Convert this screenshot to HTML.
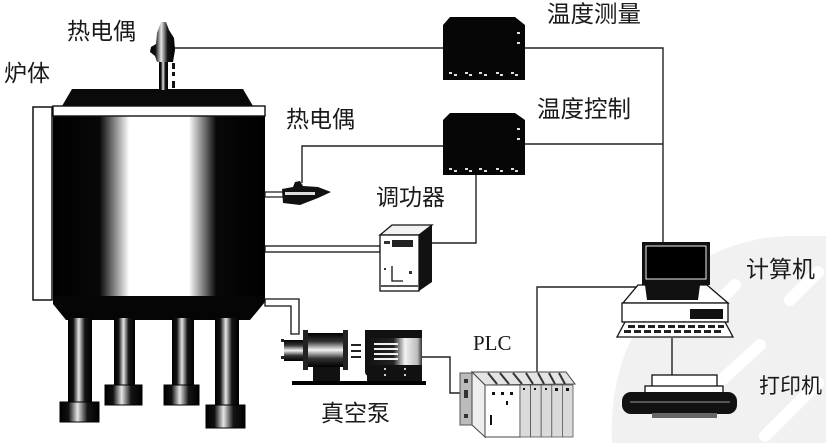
<!DOCTYPE html>
<html><head><meta charset="utf-8">
<style>
html,body{margin:0;padding:0;background:#fff;width:826px;height:443px;overflow:hidden;}
svg{display:block;overflow:hidden;}
text{font-family:"Liberation Sans","Noto Sans CJK SC",sans-serif;fill:#1a1a1a;}
</style></head><body>
<svg width="826" height="443" viewBox="0 0 826 443" xmlns="http://www.w3.org/2000/svg">
<defs>
<linearGradient id="body" x1="53" y1="0" x2="265" y2="0" gradientUnits="userSpaceOnUse">
<stop offset="0" stop-color="#000"/>
<stop offset="0.22" stop-color="#080808"/>
<stop offset="0.36" stop-color="#fff"/>
<stop offset="0.64" stop-color="#fff"/>
<stop offset="0.77" stop-color="#080808"/>
<stop offset="1" stop-color="#000"/>
</linearGradient>
<linearGradient id="leg" x1="0" y1="0" x2="1" y2="0">
<stop offset="0" stop-color="#000"/>
<stop offset="0.22" stop-color="#111"/>
<stop offset="0.45" stop-color="#e6e6e6"/>
<stop offset="0.7" stop-color="#151515"/>
<stop offset="1" stop-color="#000"/>
</linearGradient>
<linearGradient id="pumpV" x1="0" y1="0" x2="0" y2="1">
<stop offset="0" stop-color="#000"/>
<stop offset="0.25" stop-color="#333"/>
<stop offset="0.5" stop-color="#f4f4f4"/>
<stop offset="0.75" stop-color="#333"/>
<stop offset="1" stop-color="#000"/>
</linearGradient>
<linearGradient id="motorH" x1="0" y1="0" x2="1" y2="0">
<stop offset="0" stop-color="#111"/>
<stop offset="0.5" stop-color="#222"/>
<stop offset="0.7" stop-color="#f2f2f2"/>
<stop offset="0.92" stop-color="#bbb"/>
<stop offset="1" stop-color="#333"/>
</linearGradient>
</defs>

<!-- watermark -->
<path d="M612,443 C606,330 680,238 790,236 L826,236 L826,443 Z" fill="#f1f1f1"/>
<path d="M690,330 L735,285 M700,400 L760,345 M790,300 L818,272 M765,436 L818,383" stroke="#fff" stroke-width="12" fill="none" stroke-linecap="round"/>

<!-- connector lines -->
<g stroke="#222" stroke-width="1.4" fill="none">
<path d="M173,48 H445"/>
<path d="M525,48 H663 V242"/>
<path d="M525,144 H663"/>
<path d="M302,183 V146 H445"/>
<path d="M476,175 V243 H432"/>
<path d="M422,357 H450 V393 H463"/>
<path d="M537,373 V287 H638"/>
<path d="M672,338 V375"/>
</g>

<!-- furnace left panel -->
<rect x="33" y="107" width="19" height="193" fill="#fff" stroke="#111" stroke-width="1.5"/>
<!-- lid -->
<polygon points="72,89 243,89 253,106 62,106" fill="#0a0a0a"/>
<!-- body -->
<rect x="53" y="116" width="212" height="181" fill="url(#body)"/>
<polygon points="53,296 265,296 265,302 250,320 66,320 53,304" fill="#050505"/>
<!-- white band -->
<rect x="53" y="106" width="212" height="10" fill="#fff" stroke="#111" stroke-width="1.4"/>

<!-- legs -->
<rect x="68" y="318" width="24" height="85" fill="url(#leg)"/>
<rect x="60" y="402" width="39" height="20" fill="url(#leg)" stroke="#000" stroke-width="1"/>
<rect x="114" y="318" width="21" height="68" fill="url(#leg)"/>
<rect x="105" y="385" width="37" height="20" fill="url(#leg)" stroke="#000" stroke-width="1"/>
<rect x="172" y="318" width="22" height="68" fill="url(#leg)"/>
<rect x="164" y="385" width="35" height="20" fill="url(#leg)" stroke="#000" stroke-width="1"/>
<rect x="215" y="318" width="24" height="88" fill="url(#leg)"/>
<rect x="206" y="405" width="39" height="23" fill="url(#leg)" stroke="#000" stroke-width="1"/>

<!-- top thermocouple -->
<polygon points="161,22 166,22 169,30 174,38 175,50 173,62 157,62 155,56 150,52 151,47 156,44 157,33" fill="url(#leg)"/>
<rect x="159" y="62" width="9" height="28" fill="url(#leg)"/>
<rect x="172" y="63" width="3" height="6" fill="#111"/>
<rect x="172" y="72" width="3" height="4" fill="#111"/>
<rect x="172" y="81" width="3" height="7" fill="#111"/>

<!-- second thermocouple -->
<rect x="265" y="192" width="18" height="5" fill="#fff" stroke="#111" stroke-width="1.2"/>
<polygon points="282,189 293,187 295,182 300,181 303,186 318,187 331,192 318,198 300,205 283,203" fill="#111"/>
<rect x="285" y="192" width="30" height="3" fill="#ddd"/>

<!-- temperature measure device -->
<polygon points="450,17 515,17 525,25 525,80 443,80 443,25" fill="#060606"/>
<!-- temperature control device -->
<polygon points="450,113 515,113 525,120 525,175 443,175 443,120" fill="#060606"/>
<g fill="#ddd">
<rect x="517" y="32" width="3" height="2"/><rect x="517" y="42" width="3" height="2"/>
<rect x="517" y="128" width="3" height="2"/><rect x="517" y="138" width="3" height="2"/>
<rect x="449" y="72" width="3" height="2"/><rect x="454" y="74" width="3" height="2"/>
<rect x="465" y="72" width="3" height="2"/><rect x="469" y="74" width="3" height="2"/>
<rect x="479" y="72" width="3" height="2"/><rect x="484" y="74" width="3" height="2"/>
<rect x="496" y="72" width="3" height="2"/><rect x="500" y="74" width="3" height="2"/>
<rect x="511" y="72" width="3" height="2"/><rect x="515" y="74" width="3" height="2"/>
<rect x="449" y="168" width="3" height="2"/><rect x="454" y="170" width="3" height="2"/>
<rect x="465" y="168" width="3" height="2"/><rect x="469" y="170" width="3" height="2"/>
<rect x="479" y="168" width="3" height="2"/><rect x="484" y="170" width="3" height="2"/>
<rect x="496" y="168" width="3" height="2"/><rect x="500" y="170" width="3" height="2"/>
<rect x="511" y="168" width="3" height="2"/><rect x="515" y="170" width="3" height="2"/>
</g>

<!-- pipe to power regulator -->
<rect x="265" y="246" width="115" height="6" fill="#fff" stroke="#111" stroke-width="1.3"/>
<!-- power regulator -->
<polygon points="380,235 392,225 432,225 419,235" fill="#f2f2f2" stroke="#111" stroke-width="1.3"/>
<polygon points="419,235 432,225 432,282 419,291" fill="#111"/>
<rect x="380" y="235" width="39" height="56" fill="#fff" stroke="#111" stroke-width="1.3"/>
<rect x="392" y="240" width="21" height="7" fill="#222"/>
<rect x="384" y="241" width="6" height="3" fill="#333"/>
<path d="M392,266 V281 H403" stroke="#111" stroke-width="1.3" fill="none"/>
<rect x="384" y="268" width="2" height="2" fill="#333"/>
<rect x="409" y="271" width="3" height="3" fill="#333"/>
<rect x="381" y="285" width="37" height="2" fill="#555"/>

<!-- pipe to pump -->
<path d="M265,299 H299 V334 H291 V306 H265 Z" fill="#fff" stroke="#111" stroke-width="1.3"/>

<!-- vacuum pump -->
<rect x="284" y="340" width="20" height="21" fill="url(#pumpV)"/>
<rect x="281" y="339" width="3" height="3" fill="#222"/>
<rect x="281" y="356" width="3" height="3" fill="#222"/>
<rect x="306" y="333" width="40" height="34" fill="url(#pumpV)"/>
<rect x="303" y="330" width="5" height="40" fill="#222"/>
<rect x="343" y="330" width="5" height="40" fill="#222"/>
<rect x="313" y="367" width="27" height="15" fill="#111"/>
<rect x="351" y="344" width="10" height="2" fill="#222"/>
<rect x="351" y="350" width="10" height="2" fill="#222"/>
<rect x="351" y="356" width="10" height="2" fill="#222"/>
<rect x="365" y="330" width="57" height="46" rx="4" fill="url(#motorH)"/>
<rect x="365" y="330" width="57" height="8" fill="#111"/>
<g fill="#f0f0f0">
<rect x="374" y="343" width="24" height="2"/>
<rect x="374" y="348" width="24" height="2"/>
<rect x="374" y="353" width="24" height="2"/>
<rect x="374" y="358" width="24" height="2"/>
</g>
<rect x="367" y="365" width="55" height="17" fill="#111"/>
<rect x="384" y="368" width="2" height="2" fill="#ccc"/><rect x="384" y="374" width="2" height="2" fill="#ccc"/>
<rect x="404" y="368" width="2" height="2" fill="#ccc"/><rect x="404" y="374" width="2" height="2" fill="#ccc"/>
<rect x="292" y="381" width="134" height="4" fill="#000"/>

<!-- PLC -->
<rect x="460" y="373" width="12" height="52" fill="#bbb" stroke="#555" stroke-width="1"/>
<rect x="464" y="379" width="4" height="4" fill="#333"/>
<rect x="464" y="390" width="4" height="8" fill="#333"/>
<rect x="464" y="414" width="4" height="4" fill="#333"/>
<polygon points="472,372 566,372 575,384 485,385" fill="#e4e4e4" stroke="#444" stroke-width="1"/>
<g stroke="#333" stroke-width="2">
<line x1="488" y1="373" x2="497" y2="384"/>
<line x1="500" y1="373" x2="509" y2="384"/>
<line x1="513" y1="373" x2="522" y2="384"/>
<line x1="526" y1="373" x2="533" y2="384"/>
<line x1="538" y1="373" x2="544" y2="384"/>
<line x1="549" y1="373" x2="555" y2="384"/>
<line x1="559" y1="373" x2="565" y2="384"/>
</g>
<polygon points="472,372 485,385 485,437 472,425" fill="#eee" stroke="#444" stroke-width="1"/>
<rect x="485" y="385" width="35" height="52" fill="#fff" stroke="#444" stroke-width="1"/>
<g fill="#dadada" stroke="#555" stroke-width="0.8">
<rect x="520" y="385" width="10.6" height="52"/>
<rect x="530.6" y="385" width="10.6" height="52"/>
<rect x="541.2" y="385" width="10.6" height="52"/>
<rect x="551.8" y="385" width="10.6" height="52"/>
<rect x="562.4" y="385" width="10.6" height="52"/>
</g>
<g fill="#111">
<rect x="492" y="392" width="3" height="3"/><rect x="501" y="392" width="3" height="3"/><rect x="510" y="392" width="3" height="3"/>
<rect x="506" y="401" width="2" height="4"/>
<rect x="490" y="415" width="2" height="10"/>
<rect x="523" y="388" width="2" height="2"/><rect x="534" y="388" width="2" height="2"/>
<rect x="545" y="388" width="2" height="2"/><rect x="555" y="388" width="3" height="3"/><rect x="566" y="388" width="3" height="3"/>
</g>

<!-- computer -->
<polygon points="638,285 707,285 728,303 623,303" fill="#fff" stroke="#111" stroke-width="1.3"/>
<polygon points="645,285 700,285 698,300 647,300" fill="#111"/>
<rect x="642" y="242" width="68" height="43" fill="#111"/>
<rect x="646" y="246" width="60" height="33" fill="#000" stroke="#eee" stroke-width="1"/>
<rect x="622" y="303" width="106" height="19" fill="#fff" stroke="#111" stroke-width="1.3"/>
<rect x="690" y="309" width="33" height="10" fill="#111"/>
<polygon points="625,322 725,322 733,337 617,337" fill="#fff" stroke="#111" stroke-width="1.3"/>
<g fill="#222">
<rect x="628" y="325" width="7" height="3"/><rect x="638" y="325" width="7" height="3"/><rect x="648" y="325" width="7" height="3"/><rect x="658" y="325" width="7" height="3"/><rect x="668" y="325" width="7" height="3"/><rect x="678" y="325" width="7" height="3"/><rect x="688" y="325" width="7" height="3"/><rect x="698" y="325" width="7" height="3"/><rect x="708" y="325" width="7" height="3"/><rect x="718" y="325" width="6" height="3"/>
<rect x="624" y="330" width="7" height="3"/><rect x="634" y="330" width="7" height="3"/><rect x="644" y="330" width="7" height="3"/><rect x="654" y="330" width="7" height="3"/><rect x="664" y="330" width="7" height="3"/><rect x="674" y="330" width="7" height="3"/><rect x="684" y="330" width="7" height="3"/><rect x="694" y="330" width="7" height="3"/><rect x="704" y="330" width="7" height="3"/><rect x="714" y="330" width="7" height="3"/>
</g>

<!-- printer -->
<rect x="652" y="375" width="65" height="12" fill="#fff" stroke="#111" stroke-width="1.3"/>
<rect x="645" y="386" width="78" height="7" fill="#fff" stroke="#111" stroke-width="1.3"/>
<rect x="622" y="392" width="115" height="22" rx="9" fill="#111"/>
<rect x="630" y="401" width="100" height="2" fill="#555"/>
<rect x="652" y="413" width="65" height="5" fill="#666"/>

<!-- labels -->
<text x="67" y="39" font-size="23">热电偶</text>
<text x="4" y="81" font-size="23">炉体</text>
<text x="547" y="22" font-size="23.5">温度测量</text>
<text x="537" y="117" font-size="23.5">温度控制</text>
<text x="286" y="127" font-size="23">热电偶</text>
<text x="376" y="205" font-size="23">调功器</text>
<text x="321" y="421" font-size="23">真空泵</text>
<text x="473" y="350" font-size="21" style="font-family:'Liberation Serif',serif">PLC</text>
<text x="746" y="277" font-size="23">计算机</text>
<text x="759" y="393" font-size="21">打印机</text>
</svg>
</body></html>
